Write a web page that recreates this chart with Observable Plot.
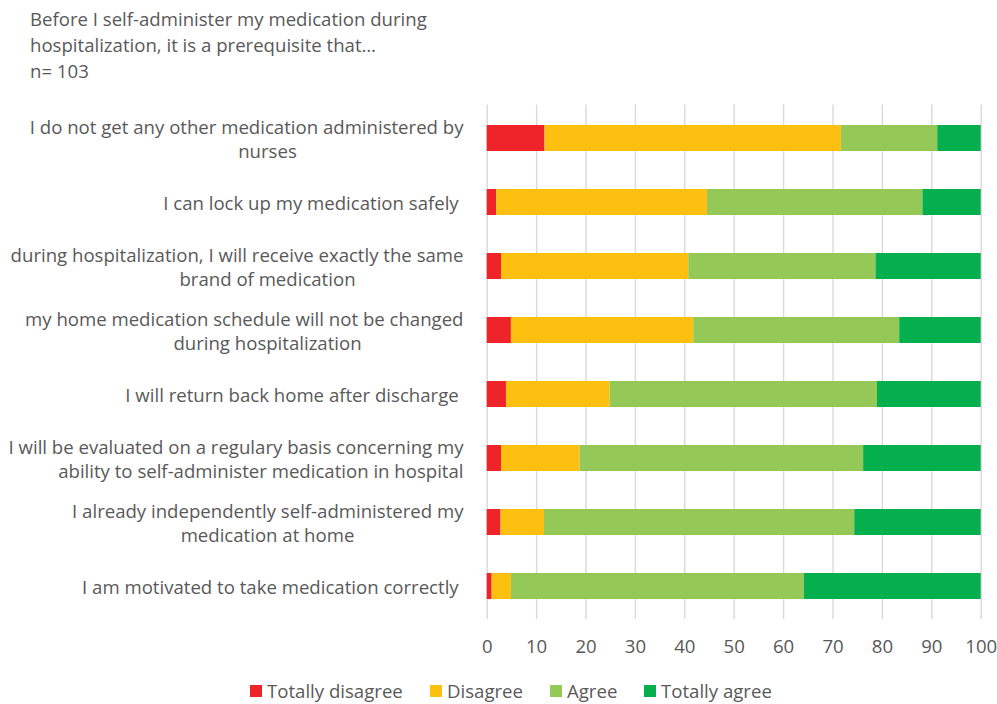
<!DOCTYPE html>
<html>
<head>
<meta charset="utf-8">
<script src="https://cdn.jsdelivr.net/npm/d3@7"></script>
<script src="https://cdn.jsdelivr.net/npm/@observablehq/plot@0.6"></script>
<style>
  html, body { margin: 0; padding: 0; background: #ffffff; }
  body { width: 997px; height: 704px; overflow: hidden; font-family: "Open Sans", Lato, sans-serif; color: #595959; }
  #title { height: 92px; box-sizing: border-box; padding: 6px 0 0 30px; font-size: 18.6px; line-height: 26px; }
  #chart svg text { white-space: pre; }
  #legend { height: 28px; position: relative; font-size: 18.6px; }
  .item { position: absolute; top: 2px; display: flex; align-items: center; }
  .sw { width: 12px; height: 12px; margin-right: 5px; }
</style>
</head>
<body>
<div id="title"></div>
<div id="chart"></div>
<div id="legend"></div>
<script>
const titleLines = ["Before I self-administer my medication during", "hospitalization, it is a prerequisite that…", "n= 103"];
const categories = [
  "I do not get any other medication administered by\nnurses",
  "I can lock up my medication safely ",
  "during hospitalization, I will receive exactly the same\nbrand of medication",
  "my home medication schedule will not be changed\nduring hospitalization",
  "I will return back home after discharge ",
  "I will be evaluated on a regulary basis concerning my\nability to self-administer medication in hospital",
  "I already independently self-administered my\nmedication at home",
  "I am motivated to take medication correctly "
];
const responses = ["Totally disagree", "Disagree", "Agree", "Totally agree"];
const totallyDisagree = [11.7, 1.9, 2.9, 4.9, 3.9, 2.9, 2.8, 1.0];
const disagree        = [60.0, 42.7, 37.9, 36.9, 21.0, 15.9, 8.8, 3.9];
const agree           = [19.5, 43.6, 37.9, 41.7, 54.1, 57.4, 62.8, 59.3];
const totallyAgree    = [8.8, 11.8, 21.3, 16.5, 21.0, 23.8, 25.6, 35.8];
const xTicks = [0, 10, 20, 30, 40, 50, 60, 70, 80, 90, 100];
const colors = ["#EE2429", "#FDC010", "#95C957", "#05AF4E"];

const series = [totallyDisagree, disagree, agree, totallyAgree];
const data = categories.flatMap((c, i) => responses.map((r, j) => ({category: c, response: r, value: series[j][i]})));

document.getElementById("title").innerHTML = titleLines.map(t => `<div>${t}</div>`).join("");

const chart = Plot.plot({
  width: 997,
  height: 584,
  marginLeft: 486.7,
  marginRight: 16.3,
  marginTop: 12.5,
  marginBottom: 57,
  style: {fontFamily: "'Open Sans', Lato, sans-serif", fontSize: "18.6px", color: "#595959", background: "#ffffff"},
  x: {domain: [0, 100]},
  y: {domain: categories, paddingInner: 0.6, paddingOuter: 0.3},
  color: {domain: responses, range: colors},
  marks: [
    Plot.gridX(xTicks, {stroke: "#d9d9d9", strokeOpacity: 1, strokeWidth: 1.4}),
    Plot.barX(data, {x: "value", y: "category", fill: "response"}),
    Plot.axisX({ticks: xTicks, tickSize: 0, tickPadding: 20, label: null, fontSize: 18.6}),
    Plot.axisY({tickSize: 0, tickPadding: 23.7, label: null, lineHeight: 1.3, fontSize: 18.6})
  ]
});
document.getElementById("chart").appendChild(chart);

// Excel-style: continuation lines of wrapped labels are centred in the label box
const yAxis = chart.querySelector('g[aria-label="y-axis tick label"]');
if (yAxis) {
  yAxis.querySelectorAll("text").forEach(t => {
    const spans = t.querySelectorAll("tspan");
    spans.forEach((s, i) => {
      if (i === 0) return;
      const w = s.getComputedTextLength();
      if (w < 392) { s.setAttribute("text-anchor", "middle"); s.setAttribute("x", -196); }
    });
  });
}

const legendX = [250, 430, 550, 644];
const legend = document.getElementById("legend");
responses.forEach((r, i) => {
  const it = document.createElement("div");
  it.className = "item";
  it.style.left = legendX[i] + "px";
  it.innerHTML = `<div class="sw" style="background:${colors[i]}"></div><span>${r}</span>`;
  legend.appendChild(it);
});
</script>
</body>
</html>
